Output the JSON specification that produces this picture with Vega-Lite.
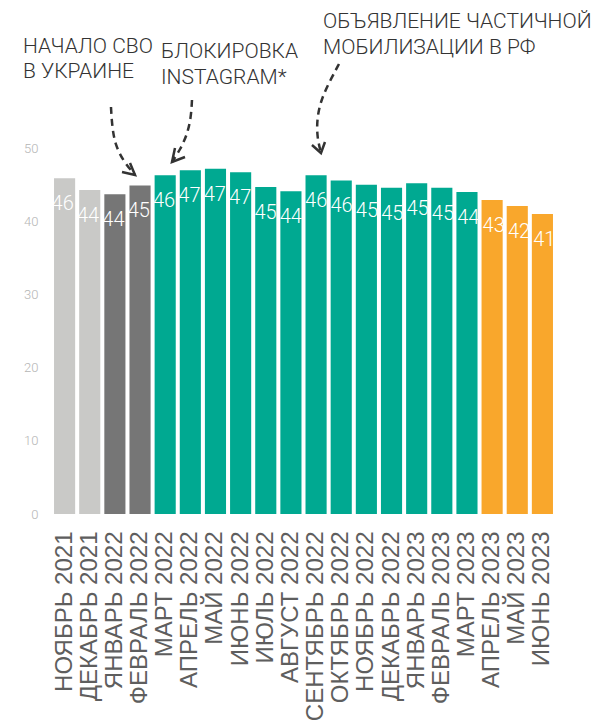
{
  "$schema": "https://vega.github.io/schema/vega-lite/v6.json",
  "autosize": "none",
  "width": 507,
  "height": 514,
  "padding": {"left": 50, "top": 0, "right": 36, "bottom": 209},
  "background": "white",
  "config": {
    "view": {"stroke": null},
    "axisY": {
      "title": null, "domain": false, "ticks": false, "grid": false,
      "labelFont": "Roboto", "labelFontWeight": 300, "labelFontSize": 13,
      "labelColor": "#b5b5b5", "labelPadding": 12
    }
  },
  "datasets": {
    "bars": [
      {"month": "НОЯБРЬ 2021", "value": 46.0, "group": "a"},
      {"month": "ДЕКАБРЬ 2021", "value": 44.4, "group": "a"},
      {"month": "ЯНВАРЬ 2022", "value": 43.8, "group": "b"},
      {"month": "ФЕВРАЛЬ 2022", "value": 45.0, "group": "b"},
      {"month": "МАРТ 2022", "value": 46.4, "group": "c"},
      {"month": "АПРЕЛЬ 2022", "value": 47.1, "group": "c"},
      {"month": "МАЙ 2022", "value": 47.3, "group": "c"},
      {"month": "ИЮНЬ 2022", "value": 46.8, "group": "c"},
      {"month": "ИЮЛЬ 2022", "value": 44.8, "group": "c"},
      {"month": "АВГУСТ 2022", "value": 44.2, "group": "c"},
      {"month": "СЕНТЯБРЬ 2022", "value": 46.4, "group": "c"},
      {"month": "ОКТЯБРЬ 2022", "value": 45.7, "group": "c"},
      {"month": "НОЯБРЬ 2022", "value": 45.1, "group": "c"},
      {"month": "ДЕКАБРЬ 2022", "value": 44.7, "group": "c"},
      {"month": "ЯНВАРЬ 2023", "value": 45.3, "group": "c"},
      {"month": "ФЕВРАЛЬ 2023", "value": 44.7, "group": "c"},
      {"month": "МАРТ 2023", "value": 44.1, "group": "c"},
      {"month": "АПРЕЛЬ 2023", "value": 43.0, "group": "d"},
      {"month": "МАЙ 2023", "value": 42.2, "group": "d"},
      {"month": "ИЮНЬ 2023", "value": 41.1, "group": "d"}
    ],
    "notes": [
      {"text": "НАЧАЛО СВО", "i": -1.654, "v": 63.15},
      {"text": "В УКРАИНЕ", "i": -1.654, "v": 59.73},
      {"text": "БЛОКИРОВКА", "i": 3.834, "v": 62.47},
      {"text": "INSTAGRAM*", "i": 3.834, "v": 58.90},
      {"text": "ОБЪЯВЛЕНИЕ ЧАСТИЧНОЙ", "i": 10.275, "v": 66.58},
      {"text": "МОБИЛИЗАЦИИ В РФ", "i": 10.275, "v": 63.01}
    ],
    "arrows": [
      {"arrow": 1, "k": 1, "i": 1.845, "v": 55.75},
      {"arrow": 1, "k": 2, "i": 1.885, "v": 53.29},
      {"arrow": 1, "k": 3, "i": 2.005, "v": 50.55},
      {"arrow": 1, "k": 4, "i": 2.362, "v": 48.22},
      {"arrow": 1, "k": 5, "i": 2.800, "v": 46.44},
      {"arrow": 2, "k": 1, "i": 5.066, "v": 56.71},
      {"arrow": 2, "k": 2, "i": 5.026, "v": 54.25},
      {"arrow": 2, "k": 3, "i": 4.867, "v": 51.92},
      {"arrow": 2, "k": 4, "i": 4.589, "v": 49.86},
      {"arrow": 2, "k": 5, "i": 4.271, "v": 48.22},
      {"arrow": 3, "k": 1, "i": 10.911, "v": 61.64},
      {"arrow": 3, "k": 2, "i": 10.633, "v": 59.86},
      {"arrow": 3, "k": 3, "i": 10.235, "v": 57.12},
      {"arrow": 3, "k": 4, "i": 10.036, "v": 54.38},
      {"arrow": 3, "k": 5, "i": 10.036, "v": 51.64},
      {"arrow": 3, "k": 6, "i": 10.195, "v": 49.45}
    ],
    "heads": [
      {"arrow": 1, "k": 1, "i": 2.283, "v": 46.85},
      {"arrow": 1, "k": 2, "i": 2.800, "v": 46.44},
      {"arrow": 1, "k": 3, "i": 2.601, "v": 48.08},
      {"arrow": 2, "k": 1, "i": 4.390, "v": 50.14},
      {"arrow": 2, "k": 2, "i": 4.271, "v": 48.22},
      {"arrow": 2, "k": 3, "i": 4.788, "v": 48.90},
      {"arrow": 3, "k": 1, "i": 9.837, "v": 50.55},
      {"arrow": 3, "k": 2, "i": 10.195, "v": 49.45},
      {"arrow": 3, "k": 3, "i": 10.354, "v": 50.96}
    ]
  },
  "resolve": {"scale": {"x": "independent"}},
  "layer": [
    {
      "data": {"name": "bars"},
      "mark": {"type": "bar"},
      "encoding": {
        "x": {
          "field": "month", "type": "nominal", "sort": null,
          "scale": {"paddingInner": 0.16, "paddingOuter": 0.16},
          "axis": {
            "title": null, "domain": false, "ticks": false,
            "labelAngle": -90, "labelAlign": "right", "labelBaseline": "middle",
            "labelFont": "Liberation Sans", "labelFontSize": 24, "labelColor": "#5e5e5e",
            "labelPadding": 17, "labelLimit": 0, "labelOverlap": false, "labelBound": false
          }
        },
        "y": {
          "field": "value", "type": "quantitative",
          "scale": {"domain": [0, 70.41], "nice": false, "zero": true},
          "axis": {"title": null, "values": [0, 10, 20, 30, 40, 50], "domain": false, "ticks": false, "grid": false}
        },
        "color": {
          "field": "group", "type": "nominal",
          "scale": {"domain": ["a", "b", "c", "d"], "range": ["#c9c9c7", "#767676", "#00a991", "#f9a72c"]},
          "legend": null
        }
      }
    },
    {
      "data": {"name": "bars"},
      "mark": {"type": "text", "color": "white", "font": "Roboto", "fontWeight": 300, "fontSize": 20, "baseline": "middle", "dy": 26},
      "encoding": {
        "x": {
          "field": "month", "type": "nominal", "sort": null,
          "scale": {"paddingInner": 0.16, "paddingOuter": 0.16},
          "axis": null
        },
        "y": {"field": "value", "type": "quantitative", "scale": {"domain": [0, 70.41], "nice": false, "zero": true}},
        "text": {"field": "value", "type": "quantitative", "format": ".0f"}
      }
    },
    {
      "data": {"name": "notes"},
      "mark": {"type": "text", "align": "left", "baseline": "alphabetic", "font": "Roboto", "fontWeight": 300, "fontSize": 21, "color": "#333333"},
      "encoding": {
        "x": {"field": "i", "type": "quantitative", "scale": {"domain": [-0.58, 19.58], "nice": false, "zero": false}, "axis": null},
        "y": {"field": "v", "type": "quantitative", "scale": {"domain": [0, 70.41], "nice": false, "zero": true}},
        "text": {"field": "text", "type": "nominal"}
      }
    },
    {
      "data": {"name": "arrows"},
      "mark": {"type": "line", "interpolate": "basis", "stroke": "#333333", "strokeWidth": 2.5, "strokeDash": [7, 5], "clip": false},
      "encoding": {
        "x": {"field": "i", "type": "quantitative", "scale": {"domain": [-0.58, 19.58], "nice": false, "zero": false}, "axis": null},
        "y": {"field": "v", "type": "quantitative", "scale": {"domain": [0, 70.41], "nice": false, "zero": true}},
        "detail": {"field": "arrow", "type": "nominal"},
        "order": {"field": "k", "type": "quantitative"}
      }
    },
    {
      "data": {"name": "heads"},
      "mark": {"type": "line", "stroke": "#333333", "strokeWidth": 2.5, "strokeJoin": "miter", "clip": false},
      "encoding": {
        "x": {"field": "i", "type": "quantitative", "scale": {"domain": [-0.58, 19.58], "nice": false, "zero": false}, "axis": null},
        "y": {"field": "v", "type": "quantitative", "scale": {"domain": [0, 70.41], "nice": false, "zero": true}},
        "detail": {"field": "arrow", "type": "nominal"},
        "order": {"field": "k", "type": "quantitative"}
      }
    }
  ]
}
